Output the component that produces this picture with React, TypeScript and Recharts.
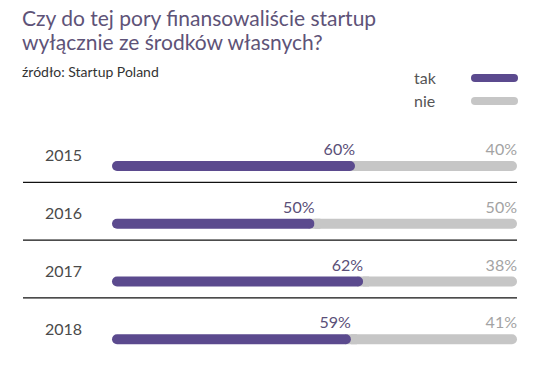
import React from "react";
import { BarChart, Bar, XAxis, YAxis, LabelList } from "recharts";

const years = ["2015", "2016", "2017", "2018"];
const takValues = [60, 50, 62, 59];
const nieValues = [40, 50, 38, 41];
const legendNames = ["tak", "nie"];

const data = years.map((y, i) => ({ year: y, tak: takValues[i], nie: nieValues[i] }));

const PURPLE = "#5b4a8e";
const GRAY = "#c6c6c6";
const FONT = "Lato, 'Open Sans', sans-serif";

const YearTick = (props: any) => {
  const { y, payload, index } = props;
  return (
    <g>
      <text x={63.5} y={y - 11} textAnchor="middle" dominantBaseline="central" fontSize={16} fill="#4a4a4a" fontFamily={FONT}>
        {payload.value}
      </text>
      {index < years.length - 1 ? (
        <line x1={23} x2={517} y1={y + 16.5} y2={y + 16.5} stroke="#111" strokeWidth={1.2} />
      ) : null}
    </g>
  );
};

const TakShape = (props: any) => {
  const { x, y, width, height } = props;
  return (
    <g>
      <rect x={x + width - 6} y={y} width={12} height={height} fill={GRAY} />
      <rect x={x} y={y} width={width} height={height} rx={5} ry={5} fill={PURPLE} />
    </g>
  );
};

const NieShape = (props: any) => {
  const { x, y, width, height } = props;
  return (
    <path
      d={`M${x},${y} H${x + width - 5} A5,5 0 0 1 ${x + width - 5},${y + height} H${x} Z`}
      fill={GRAY}
    />
  );
};

const makeLabel = (color: string) => (props: any) => {
  const { x, y, width, value } = props;
  return (
    <text x={x + width} y={y - 6} textAnchor="end" fontSize={16} fill={color} fontFamily={FONT}>
      {value}%
    </text>
  );
};

const legendColors = [PURPLE, GRAY];

export default function App() {
  return (
    <div style={{ position: "absolute", left: 0, top: 0, width: 554, height: 378, background: "#fff", fontFamily: FONT }}>
      <div style={{ position: "absolute", left: 22, top: 6, fontSize: 21, lineHeight: "24px", color: "#5e5378" }}>
        Czy do tej pory finansowaliście startup
        <br />
        wyłącznie ze środków własnych?
      </div>
      <div style={{ position: "absolute", left: 22, top: 63, fontSize: 14, color: "#333" }}>
        źródło: Startup Poland
      </div>
      <div style={{ position: "absolute", left: 414, top: 66, width: 110, fontSize: 16, color: "#555" }}>
        {legendNames.map((name, i) => (
          <div key={name} style={{ display: "flex", alignItems: "center", height: 23 }}>
            <span style={{ width: 57 }}>{name}</span>
            <span style={{ display: "inline-block", width: 47, height: 8, borderRadius: 4, background: legendColors[i] }} />
          </div>
        ))}
      </div>
      <div style={{ position: "absolute", left: 0, top: 0 }}>
        <BarChart
          width={554}
          height={378}
          data={data}
          layout="vertical"
          margin={{ top: 137, right: 37, bottom: 10, left: 22 }}
        >
          <XAxis type="number" domain={[0, 100]} hide />
          <YAxis type="category" dataKey="year" width={90} axisLine={false} tickLine={false} tick={<YearTick />} />
          <Bar dataKey="tak" stackId="a" barSize={10} fill={PURPLE} shape={<TakShape />} isAnimationActive={false}>
            <LabelList dataKey="tak" content={makeLabel("#5a4f78")} />
          </Bar>
          <Bar dataKey="nie" stackId="a" barSize={10} fill={GRAY} shape={<NieShape />} isAnimationActive={false}>
            <LabelList dataKey="nie" content={makeLabel("#a3a3a3")} />
          </Bar>
        </BarChart>
      </div>
    </div>
  );
}
